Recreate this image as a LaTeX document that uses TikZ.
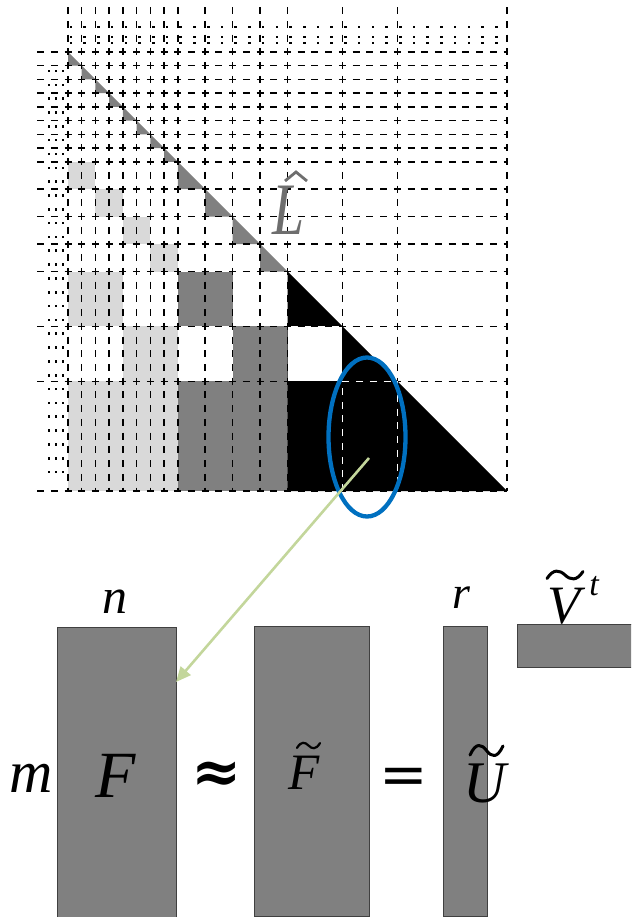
\documentclass[tikz,border=0pt]{standalone}
\usepackage{fontspec}
\setmainfont{Liberation Serif}
\newfontfamily\eqfont{DejaVu Serif}
\usetikzlibrary{arrows.meta,shapes.geometric}
\definecolor{lgray}{RGB}{217,217,217}
\definecolor{dgray}{RGB}{128,128,128}
\definecolor{hatgray}{RGB}{110,110,110}
\definecolor{ellblue}{RGB}{0,112,192}
\definecolor{arrgreen}{RGB}{195,214,155}
\tikzset{
  gridline/.style={line width=1.5pt, dash pattern=on 7pt off 6.72pt},
  selline/.style={white, line width=1.5pt, dash pattern=on 7pt off 6.72pt},
  dotsq/.style={fill=black},
  matbox/.style={draw=black!75, line width=1pt, fill=dgray, inner sep=0pt, outer sep=0pt},
  mlabel/.style={anchor=base, inner sep=0pt},
  accent/.style={line cap=round, line join=round},
}
\newcommand{\gblk}[5]{\fill[#1] ({68+(#2)*13.72},{52+(#3)*13.72}) rectangle ({68+(#4)*13.72},{52+(#5)*13.72});}
\newcommand{\gtri}[3]{\fill[#1] ({68+(#2)*13.72},{52+(#2)*13.72}) -- ({68+(#3)*13.72},{52+(#3)*13.72}) -- ({68+(#2)*13.72},{52+(#3)*13.72}) -- cycle;}
% tilde accent: x0, top y, width, height, line width
\newcommand{\tildeacc}[5]{\draw[accent, line width=#5] ({#1},{#2+0.85*#4}) .. controls ({#1+0.18*#3},{#2-0.15*#4}) and ({#1+0.35*#3},{#2+0.0*#4}) .. ({#1+0.5*#3},{#2+0.5*#4}) .. controls ({#1+0.65*#3},{#2+1.0*#4}) and ({#1+0.82*#3},{#2+1.15*#4}) .. ({#1+#3},{#2+0.15*#4});}
\begin{document}
\begin{tikzpicture}[x=1pt,y=-1pt]
\useasboundingbox (0,0) rectangle (631,917);
\clip (0,0) rectangle (631,917);
% ---------- fills of the hierarchical matrix ----------
\gblk{lgray}{0}{8}{2}{10}
\gblk{lgray}{2}{10}{4}{12}
\gblk{lgray}{4}{12}{6}{14}
\gblk{lgray}{6}{14}{8}{16}
\gblk{lgray}{0}{16}{4}{20}
\gblk{lgray}{4}{20}{8}{24}
\gblk{lgray}{0}{24}{8}{32}
\gblk{dgray}{8}{16}{12}{20}
\gblk{dgray}{12}{20}{16}{24}
\gblk{dgray}{8}{24}{16}{32}
\foreach \k in {0,...,7}{\gtri{dgray}{\k}{\k+1}}
\foreach \k in {8,10,12,14}{\gtri{dgray}{\k}{\k+2}}
\gtri{black}{16}{32}
\gblk{white}{16}{20}{20}{24}
% ---------- dashed grid ----------
\foreach \k in {0,...,8,10,12,14,16,20,24,32}{
  \draw[gridline] ({68+\k*13.72},7.3) -- ({68+\k*13.72},{52+32*13.72});
  \draw[gridline] (37.06,{52+\k*13.72}) -- ({68+32*13.72},{52+\k*13.72});
}
% margin texture (compressed finer grid)
\foreach \j in {0,...,31}{
  \foreach \yy in {27,37,43}{
    \fill[dotsq] ({71+\j*13.72-1.3},{\yy-1.3}) rectangle ++(2.6,2.6);
  }
}
\foreach \i in {0,...,29}{
  \foreach \xx in {49,56,63}{
    \fill[dotsq] ({\xx-1.3},{71+\i*13.83-1.3}) rectangle ++(2.6,2.6);
  }
}
% selected block
\draw[selline] ({68+20*13.72},{52+32*13.72}) -- ({68+20*13.72},{52+24*13.72}) -- ({68+24*13.72},{52+24*13.72}) -- ({68+24*13.72},{52+32*13.72});
\node[mlabel, text=hatgray, font=\fontsize{74}{74}\selectfont\itshape] (lhat) at (289,234) {\scalebox{0.78}[1]{L}};
\draw[hatgray, line width=2.8pt, line join=miter] (285,181) -- (296,172) -- (307,181);
\node[draw=ellblue, line width=4.3pt, ellipse, minimum width=77pt, minimum height=159pt, inner sep=0pt] (sel) at (367,437) {};
\coordinate (astart) at (369,458);
% ---------- factorization ----------
\node[matbox, minimum width=119pt, minimum height=291pt] (Fbox) at (116.5,772.5) {};
\node[matbox, minimum width=115pt, minimum height=290pt] (Ftbox) at (311.5,771) {};
\node[matbox, minimum width=44pt, minimum height=290pt] (Ubox) at (465,771) {};
\node[matbox, minimum width=116pt, minimum height=43pt] (Vbox) at (575,645.5) {};
\coordinate (atip) at (176,682);
\draw[arrgreen, line width=2.6pt, -{Triangle[length=15pt,width=13pt]}] (astart) -- (atip);
\node[mlabel, font=\fontsize{50}{50}\selectfont\itshape] (nlab) at (115,613) {n};
\node[mlabel, font=\fontsize{60}{60}\selectfont\itshape] (mlab) at (31,792) {m};
\node[mlabel, font=\fontsize{66}{66}\selectfont\itshape] (Flab) at (116,797) {F};
\node[font=\fontsize{60}{60}\selectfont\eqfont\bfseries, inner sep=0pt] (approx) at (217,777) {≈};
\node[mlabel, font=\fontsize{51}{51}\selectfont\itshape] (Ftlab) at (304,789) {F};
\tildeacc{297}{742}{23}{7}{2.2pt}
\node[font=\fontsize{58}{58}\selectfont\eqfont, inner sep=0pt] (eq) at (404,781) {=};
\node[mlabel, font=\fontsize{59}{59}\selectfont\itshape] (Ulab) at (485,802) {U};
\tildeacc{470}{744}{33}{13}{3pt}
\node[mlabel, font=\fontsize{46}{46}\selectfont\itshape] (rlab) at (461,608) {r};
\node[mlabel, font=\fontsize{54}{54}\selectfont\itshape] (Vlab) at (564,623) {V};
\tildeacc{547}{570}{36}{10}{3pt}
\node[mlabel, font=\fontsize{34}{34}\selectfont\itshape] (tlab) at (594,595) {t};
\end{tikzpicture}
\end{document}
